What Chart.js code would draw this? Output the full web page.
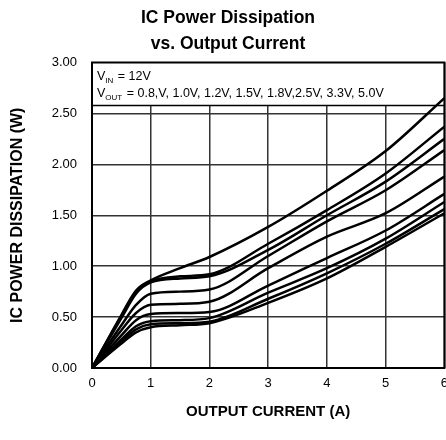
<!DOCTYPE html>
<html>
<head>
<meta charset="utf-8">
<script src="https://cdn.jsdelivr.net/npm/chart.js@4"></script>
<style>
  html, body { margin: 0; padding: 0; background: #fff; overflow: hidden; }
  #wrap { width: 446px; height: 440px; overflow: hidden; }
</style>
</head>
<body>
<div id="wrap"><canvas id="chart" width="456" height="440"></canvas></div>
<script>
// output current (A)
const currentA = [0, 0.5, 0.75, 1, 1.5, 2, 3, 4, 5, 6]

// IC power dissipation (W), curves from top to bottom
const curve1 = [0, 0.52, 0.76, 0.86, 0.98, 1.09, 1.385, 1.74, 2.13, 2.65]
const curve2 = [0, 0.51, 0.75, 0.85, 0.90, 0.92, 1.22, 1.55, 1.91, 2.37]
const curve3 = [0, 0.49, 0.73, 0.84, 0.88, 0.90, 1.16, 1.50, 1.83, 2.25]
const curve4 = [0, 0.42, 0.62, 0.73, 0.75, 0.77, 1.10, 1.44, 1.745, 2.14]
const curve5 = [0, 0.37, 0.54, 0.62, 0.63, 0.65, 0.98, 1.29, 1.52, 1.88]
const curve6 = [0, 0.32, 0.47, 0.53, 0.54, 0.55, 0.81, 1.08, 1.35, 1.71]
const curve7 = [0, 0.28, 0.41, 0.46, 0.47, 0.49, 0.74, 0.98, 1.27, 1.63]
const curve8 = [0, 0.26, 0.38, 0.43, 0.44, 0.455, 0.68, 0.93, 1.22, 1.56]
const curve9 = [0, 0.24, 0.35, 0.40, 0.42, 0.44, 0.64, 0.88, 1.19, 1.52]

const curves = [curve1, curve2, curve3, curve4, curve5, curve6, curve7, curve8, curve9]

const yTicks = [0, 0.5, 1, 1.5, 2, 2.5, 3]
const xTicks = [0, 1, 2, 3, 4, 5, 6]

const FONT = "'Liberation Sans', Arial, sans-serif"

// note box with V_IN / V_OUT text
const noteBox = {
  id: "noteBox",
  beforeDatasetsDraw(chart) {
    const { ctx, chartArea } = chart
    const top = chartArea.top
    const bottom = top + 43
    ctx.save()
    ctx.fillStyle = "#fff"
    ctx.fillRect(chartArea.left, top, chartArea.right - chartArea.left, bottom - top)
    ctx.strokeStyle = "#000"
    ctx.lineWidth = 1.5
    ctx.beginPath()
    ctx.moveTo(chartArea.left, bottom)
    ctx.lineTo(chartArea.right, bottom)
    ctx.stroke()

    ctx.fillStyle = "#000"
    ctx.textBaseline = "alphabetic"
    const x0 = chartArea.left + 5
    const drawSub = (y, sub, rest) => {
      ctx.font = "12.5px " + FONT
      ctx.fillText("V", x0, y)
      let x = x0 + ctx.measureText("V").width
      ctx.font = "8px " + FONT
      ctx.fillText(sub, x, y + 3)
      x += ctx.measureText(sub).width + 1
      ctx.font = "12.5px " + FONT
      ctx.fillText(rest, x, y)
    }
    drawSub(top + 17, "IN", " = 12V")
    drawSub(top + 34, "OUT", " = 0.8,V, 1.0V, 1.2V, 1.5V, 1.8V,2.5V, 3.3V, 5.0V")
    ctx.restore()
  },
  afterDraw(chart) {
    const { ctx, chartArea } = chart
    ctx.save()
    ctx.strokeStyle = "#000"
    ctx.lineWidth = 2
    ctx.strokeRect(chartArea.left, chartArea.top, chartArea.right - chartArea.left, chartArea.bottom - chartArea.top)
    ctx.restore()
  }
}

new Chart(document.getElementById("chart"), {
  type: "line",
  data: {
    datasets: curves.map((c, i) => ({
      label: "curve " + (i + 1),
      data: currentA.map((x, j) => ({ x: x, y: c[j] })),
      borderColor: "#000",
      borderWidth: 2.5,
      pointRadius: 0,
      cubicInterpolationMode: "monotone",
      fill: false
    }))
  },
  options: {
    responsive: false,
    animation: false,
    layout: { padding: 0 },
    plugins: {
      legend: { display: false },
      tooltip: { enabled: false },
      title: {
        display: true,
        text: ["IC Power Dissipation", "vs. Output Current"],
        color: "#000",
        font: { family: FONT, size: 17.5, weight: "bold", lineHeight: 1.5 },
        padding: { top: 5, bottom: 5 }
      }
    },
    scales: {
      x: {
        type: "linear",
        min: 0,
        max: 6,
        afterBuildTicks: s => { s.ticks = xTicks.map(v => ({ value: v })) },
        afterFit: s => { s.height = 72 },
        ticks: { color: "#000", padding: 8, font: { family: FONT, size: 13 } },
        grid: { color: "#333", lineWidth: 1.5, drawTicks: false },
        border: { display: false },
        title: {
          display: true,
          text: "OUTPUT CURRENT (A)",
          color: "#000",
          font: { family: FONT, size: 15, weight: "bold" },
          padding: { top: 0, bottom: 19 }
        }
      },
      y: {
        min: 0,
        max: 3,
        afterBuildTicks: s => { s.ticks = yTicks.map(v => ({ value: v })) },
        afterFit: s => { s.width = 92 },
        ticks: {
          color: "#000",
          padding: 15,
          font: { family: FONT, size: 13 },
          callback: v => v.toFixed(2)
        },
        grid: { color: "#333", lineWidth: 1.5, drawTicks: false },
        border: { display: false },
        title: {
          display: true,
          text: "IC POWER DISSIPATION (W)",
          color: "#000",
          font: { family: FONT, size: 16, weight: "bold" },
          padding: { top: 8, bottom: 0 }
        }
      }
    }
  },
  plugins: [noteBox]
})
</script>
</body>
</html>
